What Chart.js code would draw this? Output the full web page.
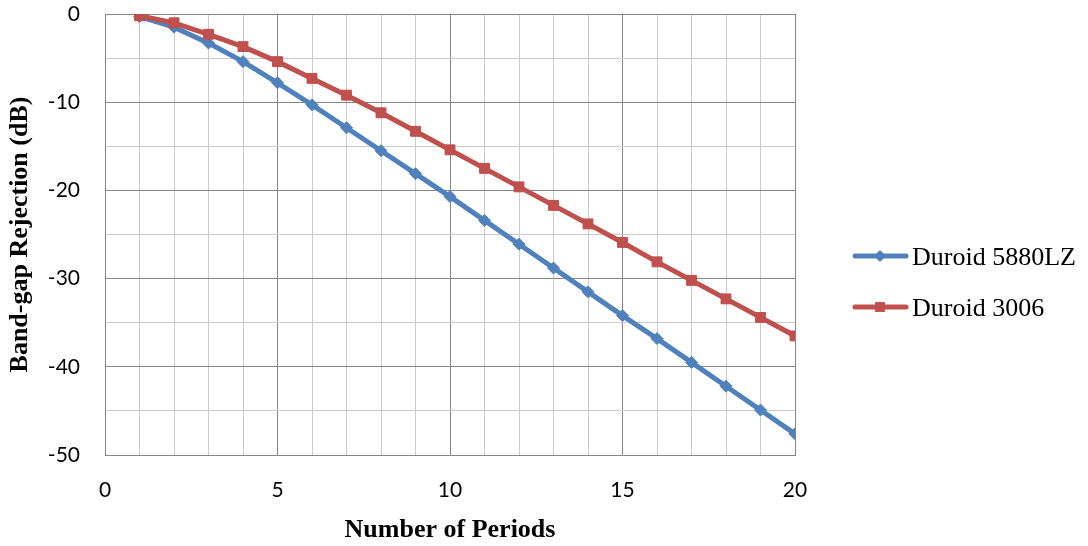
<!DOCTYPE html>
<html>
<head>
<meta charset="utf-8">
<title>Band-gap rejection vs number of periods</title>
<script src="https://cdn.jsdelivr.net/npm/chart.js@4"></script>
<style>
  html, body { margin: 0; padding: 0; background: #fff; }
  #chart { display: block; }
</style>
</head>
<body>
<canvas id="chart" width="1088" height="546"></canvas>
<script>
// values
const periods = [1, 2, 3, 4, 5, 6, 7, 8, 9, 10, 11, 12, 13, 14, 15, 16, 17, 18, 19, 20];
const duroid5880 = [-0.3, -1.5, -3.3, -5.4, -7.8, -10.3, -12.9, -15.5, -18.1, -20.7,
                    -23.4, -26.1, -28.8, -31.5, -34.2, -36.8, -39.5, -42.2, -44.9, -47.6];
const duroid3006 = [-0.2, -1.0, -2.3, -3.7, -5.4, -7.3, -9.2, -11.2, -13.3, -15.4,
                    -17.5, -19.6, -21.7, -23.8, -25.9, -28.1, -30.2, -32.3, -34.4, -36.5];
const seriesNames = ['Duroid 5880LZ', 'Duroid 3006'];
const xTitle = 'Number of Periods';
const yTitle = 'Band-gap Rejection (dB)';

const BLUE = '#4F81BD';
const RED = '#C0504D';
const GRID_MAJOR = '#868686';
const GRID_MINOR = '#cccccc';

function points(ys) {
  return periods.map((p, i) => ({ x: p, y: ys[i] }));
}

// legend drawn on the right, line + marker like the office chart
const sideLegend = {
  id: 'sideLegend',
  afterDraw(chart) {
    const ctx = chart.ctx;
    const rows = [256, 307];
    chart.data.datasets.forEach((ds, i) => {
      const y = rows[i];
      ctx.save();
      ctx.strokeStyle = ds.borderColor;
      ctx.lineWidth = ds.borderWidth;
      ctx.lineCap = 'round';
      ctx.beginPath();
      ctx.moveTo(855, y);
      ctx.lineTo(906, y);
      ctx.stroke();
      ctx.fillStyle = ds.pointBackgroundColor;
      Chart.helpers.drawPoint(ctx, { pointStyle: ds.pointStyle, radius: ds.pointRadius, borderWidth: 0 }, 880, y);
      ctx.fillStyle = '#000';
      ctx.font = '26px "Liberation Serif", "Times New Roman", serif';
      ctx.textBaseline = 'middle';
      ctx.textAlign = 'left';
      ctx.fillText(ds.label, 912, y + 2);
      ctx.restore();
    });
  }
};

new Chart(document.getElementById('chart').getContext('2d'), {
  type: 'line',
  data: {
    datasets: [
      {
        label: seriesNames[0],
        data: points(duroid5880),
        borderColor: BLUE,
        backgroundColor: BLUE,
        pointBackgroundColor: BLUE,
        pointBorderColor: BLUE,
        borderWidth: 5,
        pointStyle: 'rectRot',
        pointRadius: 6,
        pointBorderWidth: 1,
        order: 1
      },
      {
        label: seriesNames[1],
        data: points(duroid3006),
        borderColor: RED,
        backgroundColor: RED,
        pointBackgroundColor: RED,
        pointBorderColor: RED,
        borderWidth: 5,
        pointStyle: 'rect',
        pointRadius: 7,
        pointBorderWidth: 1,
        order: 0
      }
    ]
  },
  options: {
    responsive: false,
    animation: false,
    layout: { padding: { left: 0, top: 14, right: 293, bottom: 0 } },
    plugins: { legend: { display: false }, tooltip: { enabled: false } },
    scales: {
      x: {
        type: 'linear',
        min: 0,
        max: 20,
        afterFit(s) { s.height = 91; s.paddingLeft = 0; s.paddingRight = 0; },
        ticks: {
          stepSize: 1,
          autoSkip: false,
          maxRotation: 0,
          padding: 23,
          color: '#000',
          font: { family: 'Lato, "Liberation Sans", sans-serif', size: 21 },
          callback: v => (v % 5 === 0 ? v : '')
        },
        grid: {
          drawTicks: false,
          color: c => (c.tick && c.tick.value % 5 === 0 ? GRID_MAJOR : GRID_MINOR),
          lineWidth: 1
        },
        border: { color: GRID_MAJOR, width: 1 },
        title: {
          display: true,
          text: xTitle,
          color: '#000',
          padding: { top: 0, bottom: 0 },
          font: { family: '"Liberation Serif", "Times New Roman", serif', size: 26, weight: 'bold' }
        }
      },
      y: {
        min: -50,
        max: 0,
        afterFit(s) { s.width = 105; s.paddingTop = 0; s.paddingBottom = 0; },
        ticks: {
          stepSize: 5,
          autoSkip: false,
          padding: 25,
          color: '#000',
          font: { family: 'Lato, "Liberation Sans", sans-serif', size: 21 },
          callback: v => (v % 10 === 0 ? v : '')
        },
        grid: {
          drawTicks: false,
          color: c => (c.tick && c.tick.value % 10 === 0 ? GRID_MAJOR : GRID_MINOR),
          lineWidth: 1
        },
        border: { color: GRID_MAJOR, width: 1 },
        title: {
          display: true,
          text: yTitle,
          color: '#000',
          padding: { top: 5, bottom: 0 },
          font: { family: '"Liberation Serif", "Times New Roman", serif', size: 26, weight: 'bold' }
        }
      }
    }
  },
  plugins: [sideLegend]
});
</script>
</body>
</html>
